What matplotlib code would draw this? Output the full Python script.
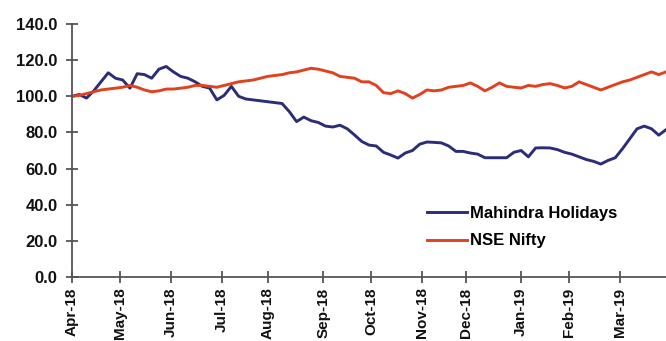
import numpy as np
import matplotlib
matplotlib.use("Agg")
import matplotlib.pyplot as plt

plt.rcParams['font.family'] = ['Liberation Sans', 'DejaVu Sans']

# Trading-day step between sampled points
step = 3

mahindra = [100, 101, 99, 103, 108, 113, 110, 109, 104.5, 112.5,
            112, 110, 115, 116.5, 113.5, 111, 110, 108, 105.5, 104.5,
            98, 100.5, 105.5, 100, 98.5, 98, 97.5, 97, 96.5, 96,
            91.5, 86, 88.5, 86.5, 85.5, 83.5, 83, 84, 82, 78.6,
            75, 73, 72.5, 69, 67.5, 65.8, 68.6, 70, 73.5, 74.7,
            74.5, 74.2, 72.5, 69.5, 69.5, 68.6, 68, 66, 66, 66,
            66, 69, 70, 66.5, 71.4, 71.5, 71.4, 70.5, 69, 68,
            66.5, 65, 64, 62.5, 64.5, 66, 71, 76.5, 82, 83.5,
            82, 78.5, 81.5]

nifty = [100, 100.5, 101.5, 102.5, 103.5, 104, 104.5, 105, 106, 105,
         103.5, 102.5, 103, 104, 104, 104.5, 105, 106, 106, 105.5,
         105, 106, 107, 108, 108.5, 109, 110, 111, 111.5, 112,
         113, 113.5, 114.5, 115.5, 115, 114, 113, 111, 110.5, 110,
         108, 108, 106, 102, 101.5, 103, 101.5, 99, 101, 103.5,
         103, 103.5, 105, 105.5, 106, 107.4, 105.5, 103, 105, 107.4,
         105.5, 105, 104.6, 106, 105.5, 106.5, 107, 106, 104.6, 105.5,
         108, 106.5, 105, 103.5, 105, 106.5, 108, 109, 110.5, 112,
         113.5, 112, 113.5]

tick_days = [0, 20, 41, 62, 81, 104, 124, 145, 163, 186, 206, 227]
tick_labels = ['Apr-18', 'May-18', 'Jun-18', 'Jul-18', 'Aug-18', 'Sep-18',
               'Oct-18', 'Nov-18', 'Dec-18', 'Jan-19', 'Feb-19', 'Mar-19']
y_ticks = [0, 20, 40, 60, 80, 100, 120, 140]

days = np.arange(len(mahindra)) * step

fig = plt.figure(figsize=(6.66, 3.41), dpi=100)
ax = fig.add_axes([72/666, 1-277/341, 1-72/666, (277-24)/341])

ax.plot(days, mahindra, color='#2B2D78', lw=2.1, label='Mahindra Holidays')
ax.plot(days, nifty, color='#E2411E', lw=2.1, label='NSE Nifty')

ax.set_xlim(0, days[-1])
ax.set_ylim(0, 140)
ax.set_yticks(y_ticks)
ax.set_yticklabels([f'{v:.1f}' for v in y_ticks])
ax.set_xticks(tick_days)
ax.set_xticklabels(tick_labels, rotation=90, va='top', ha='center')

for s in ['top', 'right']:
    ax.spines[s].set_visible(False)
for s in ['left', 'bottom']:
    ax.spines[s].set_color('#555555')
    ax.spines[s].set_linewidth(1.3)

ax.tick_params(axis='both', direction='inout', length=9, width=1.3,
               color='#555555', labelcolor='#111111')
ax.tick_params(axis='y', pad=6, labelsize=12)
ax.tick_params(axis='x', pad=3, labelsize=11)
for lab in ax.get_xticklabels() + ax.get_yticklabels():
    lab.set_fontweight('bold')

leg = fig.legend(loc='upper left', bbox_to_anchor=(427/666, 1-206/341),
                 frameon=False, handlelength=2.4, handletextpad=0.15,
                 borderpad=0, borderaxespad=0, labelspacing=0.75,
                 prop={'weight': 'bold', 'size': 12})

fig.savefig('out.png', dpi=100)
